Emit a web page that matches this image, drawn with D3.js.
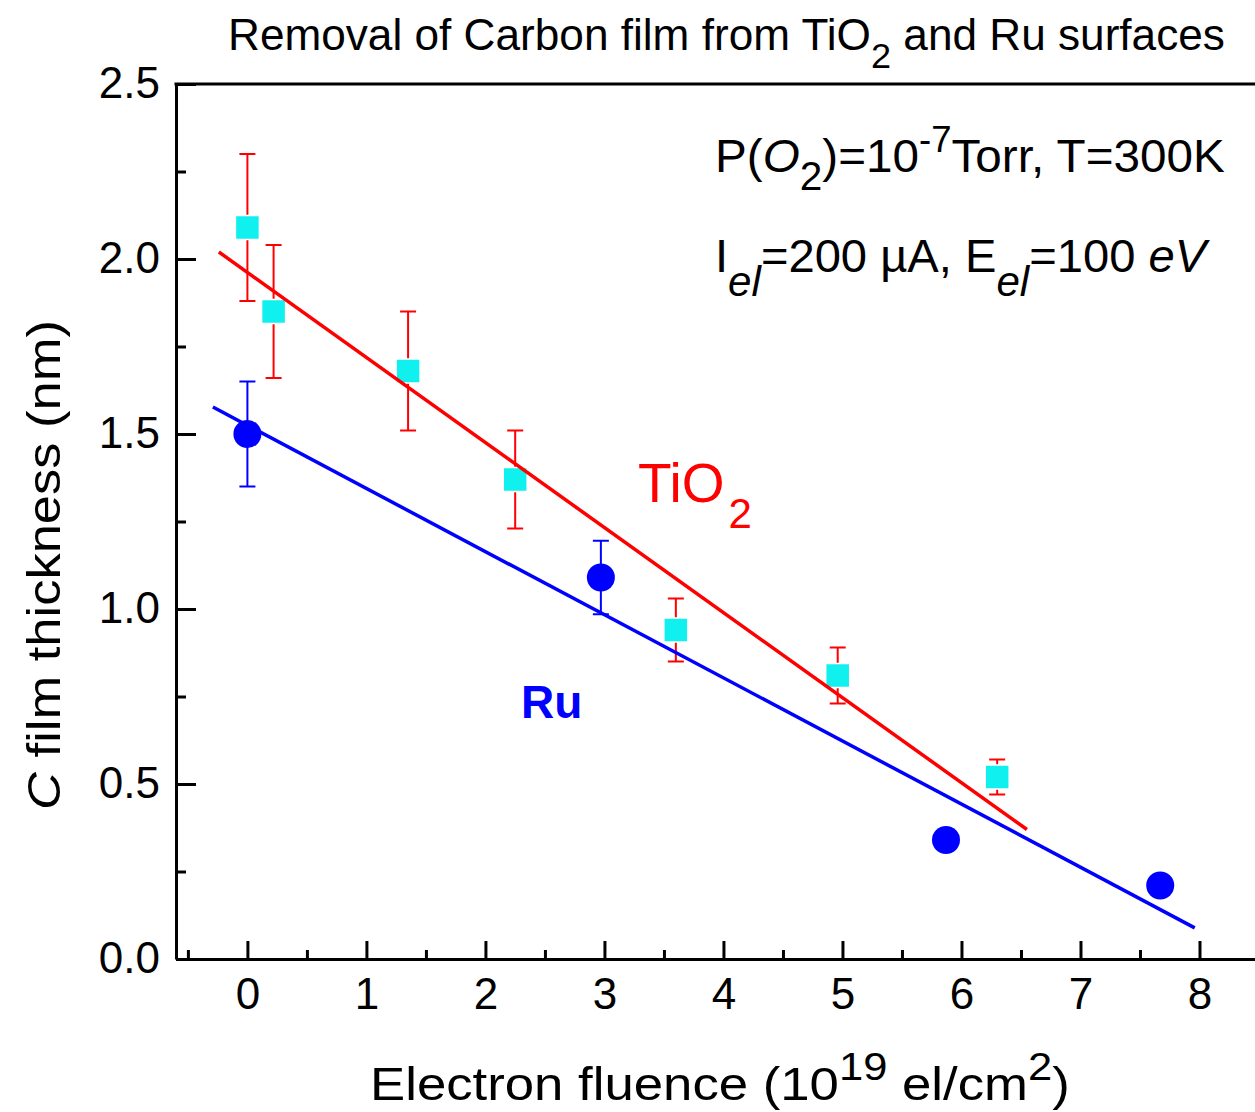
<!DOCTYPE html>
<html>
<head>
<meta charset="utf-8">
<script src="https://cdn.jsdelivr.net/npm/d3@7"></script>
<style>
  body { margin: 0; background: #fff; }
  text { font-family: "Liberation Sans", Arial, sans-serif; }
</style>
</head>
<body>
<div id="chart"></div>
<script>
// Data
var tiFluence = [0, 0.22, 1.35, 2.25, 3.6, 4.96, 6.3];
var tiThick = [2.09, 1.85, 1.68, 1.37, 0.94, 0.81, 0.52];
var tiErr = [0.21, 0.19, 0.17, 0.14, 0.09, 0.08, 0.05];

var ruFluence = [0, 2.97, 5.87, 7.67];
var ruThick = [1.50, 1.09, 0.34, 0.21];
var ruErr = [0.15, 0.105, 0, 0];

// linear fits (end points)
var tiFitX = [-0.24, 6.55];
var tiFitY = [2.02, 0.37];
var ruFitX = [-0.29, 7.96];
var ruFitY = [1.577, 0.089];

var xMajor = [0, 1, 2, 3, 4, 5, 6, 7, 8];
var xMinor = [-0.5, 0.5, 1.5, 2.5, 3.5, 4.5, 5.5, 6.5, 7.5, 8.5];
var yMajor = [0, 0.5, 1.0, 1.5, 2.0, 2.5];
var yMinor = [0.25, 0.75, 1.25, 1.75, 2.25];

// Chart setup
var svgWidth = 1255;
var svgHeight = 1112;
var plot = { left: 176, top: 84, right: 1259, bottom: 959 };

var svg = d3.select("#chart")
  .append("svg")
  .attr("width", svgWidth)
  .attr("height", svgHeight);

var x = d3.scaleLinear().domain([-0.6, 8.5]).range([plot.left, plot.right]);
var y = d3.scaleLinear().domain([0, 2.5]).range([plot.bottom, plot.top]);

// squeeze/stretch a text horizontally to a target width
function fitText(sel, x0, width) {
  var w = sel.node().getBBox().width;
  var s = width / w;
  sel.attr("transform", `translate(${x0},0) scale(${s},1) translate(${-x0},0)`);
}

// Axes
var xAxis = svg.append("g")
  .attr("transform", `translate(0, ${plot.bottom})`)
  .call(d3.axisBottom(x).tickValues(xMajor).tickFormat(d3.format("d"))
    .tickSizeInner(-18).tickSizeOuter(0).tickPadding(19));

svg.append("g")
  .attr("transform", `translate(0, ${plot.bottom})`)
  .call(d3.axisBottom(x).tickValues(xMinor).tickFormat("")
    .tickSizeInner(-9).tickSizeOuter(0))
  .select(".domain").remove();

var yAxis = svg.append("g")
  .attr("transform", `translate(${plot.left}, 0)`)
  .call(d3.axisLeft(y).tickValues(yMajor).tickFormat(d3.format(".1f"))
    .tickSizeInner(-20).tickSizeOuter(0).tickPadding(16));

svg.append("g")
  .attr("transform", `translate(${plot.left}, 0)`)
  .call(d3.axisLeft(y).tickValues(yMinor).tickFormat("")
    .tickSizeInner(-10).tickSizeOuter(0))
  .select(".domain").remove();

svg.selectAll(".domain").attr("stroke", "#000").attr("stroke-width", 3);
svg.selectAll(".tick line").attr("stroke", "#000").attr("stroke-width", 3);
svg.selectAll(".tick text")
  .attr("fill", "#000")
  .style("font-size", "44px");
yAxis.selectAll(".tick text").attr("dy", "0.30em");

// top frame line
svg.append("line")
  .attr("x1", plot.left - 1.5).attr("x2", plot.right)
  .attr("y1", plot.top).attr("y2", plot.top)
  .attr("stroke", "#000").attr("stroke-width", 3);

// Error bars
function errorBars(xs, ys, es, color) {
  var g = svg.append("g").attr("stroke", color).attr("stroke-width", 2).attr("fill", "none");
  xs.forEach(function(d, i) {
    if (!es[i]) return;
    var cx = x(d), top = y(ys[i] + es[i]), bot = y(ys[i] - es[i]);
    g.append("line").attr("x1", cx).attr("x2", cx).attr("y1", top).attr("y2", bot);
    g.append("line").attr("x1", cx - 8).attr("x2", cx + 8).attr("y1", top).attr("y2", top);
    g.append("line").attr("x1", cx - 8).attr("x2", cx + 8).attr("y1", bot).attr("y2", bot);
  });
}
errorBars(tiFluence, tiThick, tiErr, "#ff0000");
errorBars(ruFluence, ruThick, ruErr, "#0000ff");

// Markers
svg.append("g").selectAll("rect")
  .data(tiFluence)
  .enter()
  .append("rect")
  .attr("x", d => x(d) - 12)
  .attr("y", (d, i) => y(tiThick[i]) - 12)
  .attr("width", 24)
  .attr("height", 24)
  .attr("fill", "#10f0ee")
  .attr("stroke", "#fff")
  .attr("stroke-width", 1.5);

svg.append("g").selectAll("circle")
  .data(ruFluence)
  .enter()
  .append("circle")
  .attr("cx", d => x(d))
  .attr("cy", (d, i) => y(ruThick[i]))
  .attr("r", 14)
  .attr("fill", "#0000ff");

// Fit lines
var line = d3.line().x(d => x(d[0])).y(d => y(d[1]));
svg.append("path")
  .attr("d", line(d3.zip(tiFitX, tiFitY)))
  .attr("stroke", "#ff0000").attr("stroke-width", 3.5).attr("fill", "none");
svg.append("path")
  .attr("d", line(d3.zip(ruFitX, ruFitY)))
  .attr("stroke", "#0000ff").attr("stroke-width", 3.5).attr("fill", "none");

// Title
var title = svg.append("text").attr("x", 228).attr("y", 50).style("font-size", "44px");
title.append("tspan").text("Removal of Carbon film from TiO");
title.append("tspan").attr("dy", 18).style("font-size", "36px").text("2");
title.append("tspan").attr("dy", -18).text(" and Ru surfaces");
fitText(title, 228, 997);

// Annotations
var ann1 = svg.append("text").attr("x", 715).attr("y", 172).style("font-size", "47px");
ann1.append("tspan").text("P(");
ann1.append("tspan").style("font-style", "italic").text("O");
ann1.append("tspan").attr("dy", 18).style("font-size", "40px").text("2");
ann1.append("tspan").attr("dy", -18).text(")=10");
ann1.append("tspan").attr("dy", -20).style("font-size", "36px").text("-7");
ann1.append("tspan").attr("dy", 20).text("Torr, T=300K");
fitText(ann1, 715, 510);

var ann2 = svg.append("text").attr("x", 715).attr("y", 272).style("font-size", "47px");
ann2.append("tspan").text("I");
ann2.append("tspan").attr("dy", 24).style("font-size", "42px").style("font-style", "italic").text("el");
ann2.append("tspan").attr("dy", -24).text("=200 \u00b5A, E");
ann2.append("tspan").attr("dy", 24).style("font-size", "42px").style("font-style", "italic").text("el");
ann2.append("tspan").attr("dy", -24).text("=100 ");
ann2.append("tspan").style("font-style", "italic").text("eV");
fitText(ann2, 715, 495);

// Series labels
var tiLabel = svg.append("text").attr("x", 638).attr("y", 502)
  .attr("fill", "#ff0000").style("font-size", "55px");
tiLabel.append("tspan").text("TiO");
tiLabel.append("tspan").attr("dx", 4).attr("dy", 26).style("font-size", "42px").text("2");

svg.append("text").attr("x", 521).attr("y", 718)
  .attr("fill", "#0000ff").style("font-size", "46px").style("font-weight", "bold")
  .text("Ru");

// Axis labels
var xLabel = svg.append("text").attr("x", 370).attr("y", 1100).style("font-size", "46px");
xLabel.append("tspan").text("Electron fluence (10");
xLabel.append("tspan").attr("dy", -20).style("font-size", "38px").text("19");
xLabel.append("tspan").attr("dy", 20).text(" el/cm");
xLabel.append("tspan").attr("dy", -20).style("font-size", "38px").text("2");
xLabel.append("tspan").attr("dy", 20).text(")");
fitText(xLabel, 370, 700);

var yLabelGroup = svg.append("g").attr("transform", "translate(60, 565) rotate(-90)");
var yLabel = yLabelGroup.append("text").attr("x", 0).attr("y", 0)
  .attr("text-anchor", "middle").style("font-size", "46px");
yLabel.append("tspan").style("font-style", "italic").text("C");
yLabel.append("tspan").text(" film thickness (nm)");
fitText(yLabel, 0, 490);
</script>
</body>
</html>
